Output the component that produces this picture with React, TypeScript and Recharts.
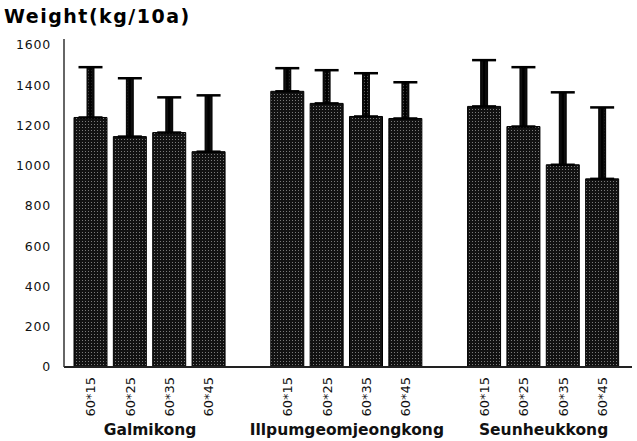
import React from 'react';
import { BarChart, Bar, XAxis, YAxis, ErrorBar } from 'recharts';

// cultivars and planting spacings
const cultivars = ['Galmikong', 'Illpumgeomjeongkong', 'Seunheukkong'];
const spacings = ['60*15', '60*25', '60*35', '60*45'];

// mean yield (kg/10a) per spacing, one array per cultivar
const galmikongYield = [1240, 1145, 1165, 1070];
const illpumYield = [1370, 1310, 1245, 1235];
const seunheukYield = [1295, 1195, 1005, 935];

// upper error (kg/10a)
const galmikongErr = [250, 290, 175, 280];
const illpumErr = [115, 165, 215, 180];
const seunheukErr = [230, 295, 360, 355];

const yTicks = [0, 200, 400, 600, 800, 1000, 1200, 1400, 1600];

type Row = { key: string; label: string; group?: string; value?: number; err?: [number, number] };

const yields = [galmikongYield, illpumYield, seunheukYield];
const errs = [galmikongErr, illpumErr, seunheukErr];

// 4 bars per cultivar, an empty slot between cultivars
const rows: Row[] = [];
cultivars.forEach((c, gi) => {
  if (gi > 0) rows.push({ key: `gap${gi}`, label: '' });
  spacings.forEach((s, si) => {
    rows.push({
      key: `${c}-${s}`,
      label: s,
      group: si === 1 ? c : undefined,
      value: yields[gi][si],
      err: [0, errs[gi][si]],
    });
  });
});

const SpacingTick = (props: any) => {
  const { x, y, index } = props;
  const row = rows[index];
  if (!row || !row.label) return <g />;
  return (
    <g>
      <text
        transform={`translate(${x},${y + 8}) rotate(-90)`}
        textAnchor="end"
        dy="0.36em"
        fontSize={13}
        fontFamily="DejaVu Sans"
        fill="#111"
      >
        {row.label}
      </text>
      {row.group && (
        <text
          x={x + 20}
          y={y + 66}
          textAnchor="middle"
          fontSize={15.5}
          fontWeight="bold"
          fontFamily="DejaVu Sans"
          fill="#111"
        >
          {row.group}
        </text>
      )}
    </g>
  );
};

export default function App() {
  return (
    <div style={{ position: 'relative', width: 637, height: 441, background: '#fff' }}>
      <style>{'body{margin:0}'}</style>
      <div
        style={{
          position: 'absolute',
          left: 4,
          top: 7,
          fontFamily: 'DejaVu Sans',
          fontWeight: 'bold',
          fontSize: 19,
          lineHeight: 1,
          letterSpacing: 1.5,
          color: '#000',
        }}
      >
        Weight(kg/10a)
      </div>
      <BarChart
        width={637}
        height={441}
        data={rows}
        margin={{ top: 39, right: 5, bottom: 0, left: 0 }}
        barCategoryGap={0}
      >
        <defs>
          <pattern id="screen" width="3" height="3" patternUnits="userSpaceOnUse">
            <rect width="3" height="3" fill="#121212" />
            <rect x="1" y="1" width="1" height="1" fill="#7a7a7a" />
          </pattern>
        </defs>
        <XAxis
          dataKey="key"
          height={74}
          interval={0}
          tickLine={false}
          tickSize={0}
          axisLine={{ stroke: '#222', strokeWidth: 2 }}
          padding={{ left: 7, right: 10 }}
          tick={<SpacingTick />}
        />
        <YAxis
          width={64}
          domain={[0, 1630]}
          ticks={yTicks}
          tickLine={false}
          tickSize={0}
          tickMargin={13}
          axisLine={{ stroke: '#333', strokeWidth: 1.5 }}
          tick={{ fontSize: 12.5, fill: '#111', fontFamily: 'DejaVu Sans', letterSpacing: 0.8 }}
        />
        <Bar
          dataKey="value"
          barSize={33}
          fill="url(#screen)"
          stroke="#000"
          strokeWidth={1}
          isAnimationActive={false}
        >
          {/* stem: dark edge with screened centre, then the thin cap */}
          <ErrorBar dataKey="err" width={0} strokeWidth={8} stroke="#0a0a0a" isAnimationActive={false} />
          <ErrorBar dataKey="err" width={0} strokeWidth={4} stroke="url(#screen)" isAnimationActive={false} />
          <ErrorBar dataKey="err" width={12} strokeWidth={2.5} stroke="#000" isAnimationActive={false} />
        </Bar>
      </BarChart>
    </div>
  );
}
